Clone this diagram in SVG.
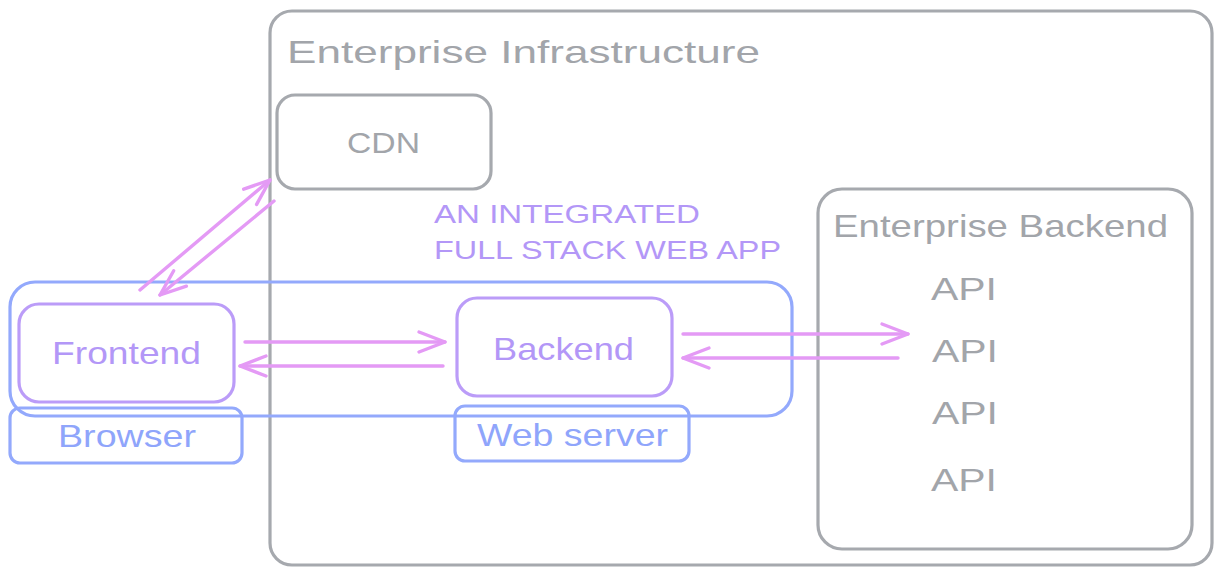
<svg xmlns="http://www.w3.org/2000/svg" width="1222" height="576" viewBox="0 0 1222 576">
<defs>
<style>
.gray{fill:none;stroke:#a6a9ae;stroke-width:3.2;}
.blue{fill:none;stroke:#93a9fc;stroke-width:3.2;}
.purple{fill:none;stroke:#bb9cf8;stroke-width:3.2;}
.t{font-family:"Liberation Sans",Arial,sans-serif;}
.tg{fill:#a2a5aa;}
.tb{fill:#8fa5fb;}
.tp{fill:#b397f7;}
.conn line{stroke:#e49af5;stroke-width:3.4;stroke-linecap:round;fill:none;marker-end:url(#ah);}
</style>
<marker id="ah" viewBox="0 0 32 32" refX="29" refY="16" markerWidth="32" markerHeight="32" markerUnits="userSpaceOnUse" orient="auto">
<path d="M3,6 L29,16 L3,26" fill="none" stroke="#e49af5" stroke-width="3.4" stroke-linecap="round" stroke-linejoin="round"/>
</marker>
</defs>
<rect width="1222" height="576" fill="#ffffff"/>

<g id="enterprise-infrastructure">
<rect class="gray" x="270" y="11" width="942" height="554" rx="22"/>
<text class="t tg" x="287" y="63" font-size="32" textLength="473" lengthAdjust="spacingAndGlyphs">Enterprise Infrastructure</text>
</g>

<g id="cdn">
<rect class="gray" x="277" y="95" width="214" height="94" rx="18"/>
<text class="t tg" x="347" y="153" font-size="30" textLength="73" lengthAdjust="spacingAndGlyphs">CDN</text>
</g>

<g id="enterprise-backend">
<rect class="gray" x="818" y="189" width="374" height="360" rx="24"/>
<text class="t tg" x="833" y="237" font-size="32" textLength="335" lengthAdjust="spacingAndGlyphs">Enterprise Backend</text>
<text class="t tg" x="931" y="300" font-size="32" textLength="66" lengthAdjust="spacingAndGlyphs">API</text>
<text class="t tg" x="932" y="362" font-size="32" textLength="66" lengthAdjust="spacingAndGlyphs">API</text>
<text class="t tg" x="932" y="424" font-size="32" textLength="66" lengthAdjust="spacingAndGlyphs">API</text>
<text class="t tg" x="931" y="491" font-size="32" textLength="66" lengthAdjust="spacingAndGlyphs">API</text>
</g>

<g id="full-stack-app">
<rect class="blue" x="10" y="282" width="782" height="134" rx="25"/>
<text class="t tp" x="434" y="223" font-size="25" textLength="266" lengthAdjust="spacingAndGlyphs">AN INTEGRATED</text>
<text class="t tp" x="434" y="259" font-size="25" textLength="347" lengthAdjust="spacingAndGlyphs">FULL STACK WEB APP</text>
</g>

<g id="frontend">
<rect class="purple" x="19" y="304" width="215" height="98" rx="20"/>
<text class="t tp" x="52" y="364" font-size="32" textLength="149" lengthAdjust="spacingAndGlyphs">Frontend</text>
</g>

<g id="browser">
<rect class="blue" x="10" y="408" width="232" height="55" rx="10"/>
<text class="t tb" x="58" y="447" font-size="32" textLength="138" lengthAdjust="spacingAndGlyphs">Browser</text>
</g>

<g id="backend">
<rect class="purple" x="457" y="298" width="215" height="98" rx="20"/>
<text class="t tp" x="493" y="360" font-size="32" textLength="141" lengthAdjust="spacingAndGlyphs">Backend</text>
</g>

<g id="web-server">
<rect class="blue" x="455" y="406" width="234" height="55" rx="10"/>
<text class="t tb" x="477" y="446" font-size="32" textLength="191" lengthAdjust="spacingAndGlyphs">Web server</text>
</g>

<g id="connectors" class="conn">
<line x1="140" y1="290" x2="270" y2="180"/>
<line x1="274" y1="201" x2="160" y2="295"/>
<line x1="245" y1="342" x2="445" y2="342"/>
<line x1="443" y1="366" x2="240" y2="366"/>
<line x1="683" y1="334" x2="908" y2="334"/>
<line x1="898" y1="358" x2="683" y2="358"/>
</g>
</svg>
